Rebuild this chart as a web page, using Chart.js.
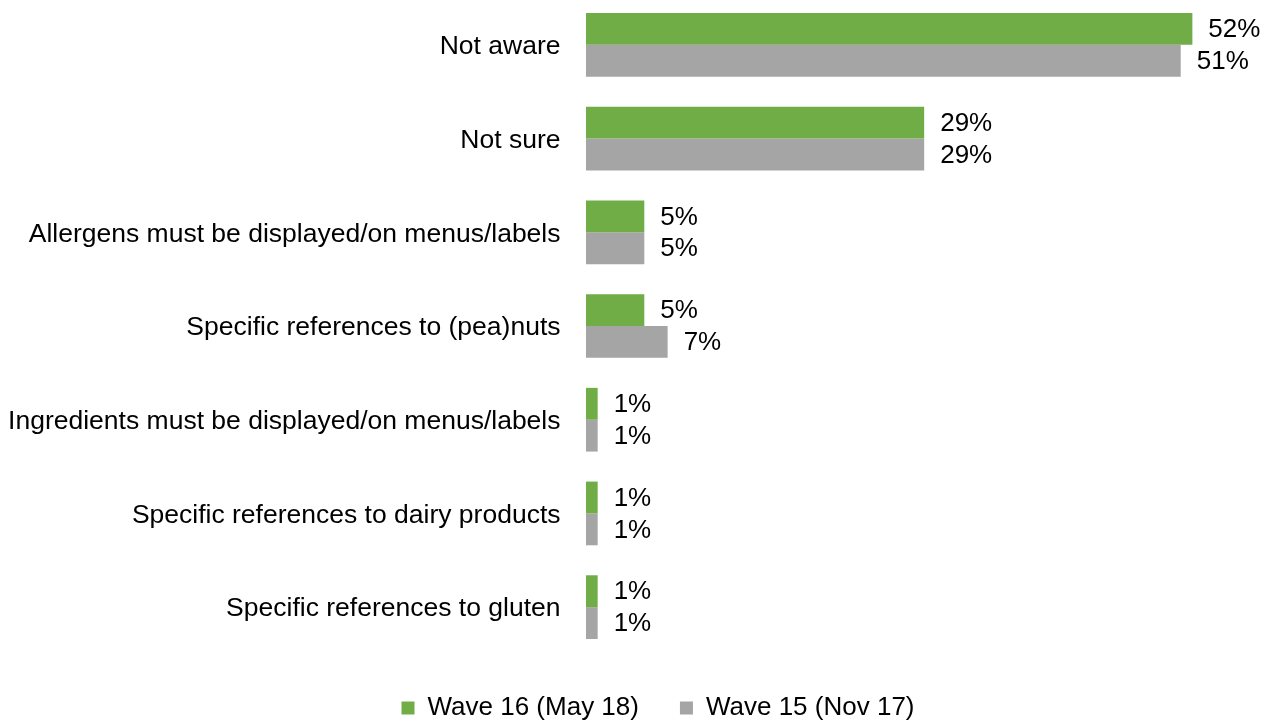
<!DOCTYPE html>
<html>
<head>
<meta charset="utf-8">
<script src="https://cdn.jsdelivr.net/npm/chart.js@4.4.1/dist/chart.umd.min.js"></script>
<style>
  html, body { margin: 0; padding: 0; background: #fff; overflow: hidden; }
  #wrap { position: relative; width: 1274px; height: 733px; margin-top: -2px; }
</style>
</head>
<body>
<div id="wrap"><canvas id="chart"></canvas></div>
<script>
const categories = [
  "Not aware",
  "Not sure",
  "Allergens must be displayed/on menus/labels",
  "Specific references to (pea)nuts",
  "Ingredients must be displayed/on menus/labels",
  "Specific references to dairy products",
  "Specific references to gluten"
];
const wave16 = [52, 29, 5, 5, 1, 1, 1];
const wave15 = [51, 29, 5, 7, 1, 1, 1];
const seriesNames = ["Wave 16 (May 18)", "Wave 15 (Nov 17)"];

const FONT = "'Liberation Sans', Arial, sans-serif";

// percent labels to the right of each bar
const valueLabels = {
  id: "valueLabels",
  afterDatasetsDraw(chart) {
    const ctx = chart.ctx;
    ctx.save();
    ctx.font = "26px " + FONT;
    ctx.fillStyle = "#000";
    ctx.textAlign = "left";
    ctx.textBaseline = "middle";
    chart.data.datasets.forEach((ds, i) => {
      chart.getDatasetMeta(i).data.forEach((bar, j) => {
        ctx.fillText(ds.data[j] + "%", bar.x + 16, bar.y + 1);
      });
    });
    ctx.restore();
  }
};

// legend sits a little right of centre in the original
const legendNudge = {
  id: "legendNudge",
  afterLayout(chart) {
    chart.legend.left += 42;
  }
};

Chart.defaults.font.family = FONT;
Chart.defaults.color = "#000";

new Chart(document.getElementById("chart"), {
  type: "bar",
  data: {
    labels: categories,
    datasets: [
      {
        label: seriesNames[0],
        data: wave16,
        backgroundColor: "#70AD47",
        borderWidth: 0,
        categoryPercentage: 0.68,
        barPercentage: 1.0
      },
      {
        label: seriesNames[1],
        data: wave15,
        backgroundColor: "#A5A5A5",
        borderWidth: 0,
        categoryPercentage: 0.68,
        barPercentage: 1.0
      }
    ]
  },
  options: {
    indexAxis: "y",
    responsive: true,
    maintainAspectRatio: false,
    animation: false,
    layout: {
      padding: 0
    },
    scales: {
      x: {
        display: false,
        min: 0,
        max: 59
      },
      y: {
        grid: { display: false, drawTicks: false },
        border: { display: false },
        ticks: {
          padding: 25.5,
          labelOffset: 2,
          color: "#000",
          font: { size: 26.5 }
        },
        afterFit(scale) {
          scale.width = 586;
          scale.paddingTop = 0;
          scale.paddingBottom = 0;
        }
      }
    },
    plugins: {
      tooltip: { enabled: false },
      legend: {
        position: "bottom",
        labels: {
          boxWidth: 13,
          boxHeight: 13,
          padding: 41,
          color: "#000",
          font: { size: 26 }
        }
      }
    }
  },
  plugins: [valueLabels, legendNudge]
});
</script>
</body>
</html>
